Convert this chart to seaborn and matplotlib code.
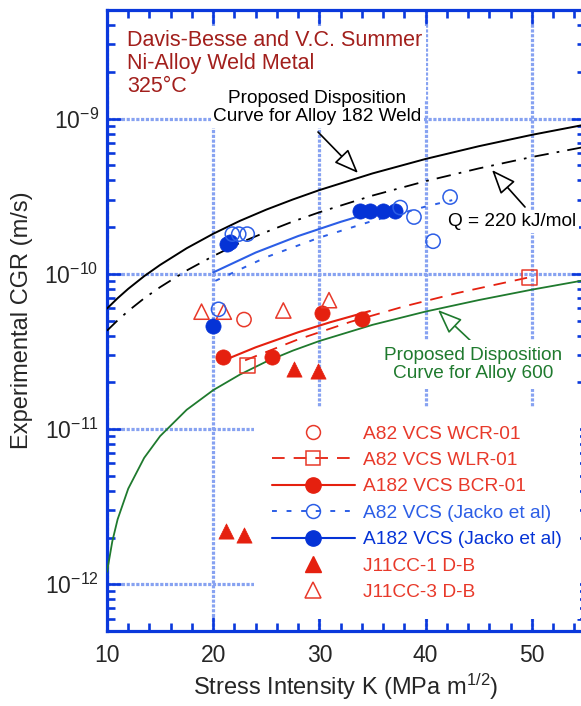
import numpy as np
import pandas as pd
import matplotlib
matplotlib.use("Agg")
import matplotlib.pyplot as plt
import seaborn as sns
from matplotlib.lines import Line2D
from matplotlib.ticker import LogLocator, MultipleLocator, NullFormatter

# ---------------- data ----------------
k_wcr01 = [22.9]
cgr_wcr01 = [5.07e-11]

k_wlr01 = [23.2, 49.8]
cgr_wlr01 = [2.58e-11, 9.5e-11]

k_bcr01 = [20.9, 25.5, 30.2, 34.0]
cgr_bcr01 = [2.92e-11, 2.92e-11, 5.6e-11, 5.15e-11]

k_a82_jacko = [20.5, 21.8, 22.4, 23.2, 37.6, 38.9, 40.7, 42.3]
cgr_a82_jacko = [5.9e-11, 1.8e-10, 1.8e-10, 1.8e-10, 2.67e-10, 2.32e-10, 1.62e-10, 3.12e-10]

k_a182_jacko = [19.95, 21.3, 21.6, 33.8, 34.75, 36.0, 37.1]
cgr_a182_jacko = [4.6e-11, 1.55e-10, 1.6e-10, 2.54e-10, 2.54e-10, 2.54e-10, 2.54e-10]

k_j11cc1 = [21.2, 22.9, 27.6, 29.9]
cgr_j11cc1 = [2.2e-12, 2.08e-12, 2.42e-11, 2.37e-11]

k_j11cc3 = [18.9, 21.0, 26.6, 30.9]
cgr_j11cc3 = [5.7e-11, 5.7e-11, 5.8e-11, 6.76e-11]

# fit lines through the data sets
k_fit_wlr01 = [23, 28, 33, 38, 43, 50]
cgr_fit_wlr01 = [2.77e-11, 3.78e-11, 4.92e-11, 6.17e-11, 7.52e-11, 9.57e-11]
k_fit_bcr01 = [20.9, 24, 28, 31, 34.75]
cgr_fit_bcr01 = [2.75e-11, 3.36e-11, 4.2e-11, 4.87e-11, 5.75e-11]
k_fit_a82_jacko = [20.2, 25, 30, 35, 40, 42.5]
cgr_fit_a82_jacko = [9.0e-11, 1.28e-10, 1.71e-10, 2.19e-10, 2.71e-10, 2.98e-10]
k_fit_a182_jacko = [20, 24, 28, 32, 36]
cgr_fit_a182_jacko = [1.02e-10, 1.37e-10, 1.75e-10, 2.16e-10, 2.61e-10]

# disposition curves
k_curve = [10, 11, 12, 13.5, 15, 17.5, 20, 22.5, 25, 27.5, 30, 35, 40, 45, 50, 55]
cgr_a182_disp = [5.97e-11, 6.96e-11, 8.0e-11, 9.65e-11, 1.14e-10, 1.46e-10, 1.81e-10, 2.19e-10,
                 2.59e-10, 3.01e-10, 3.46e-10, 4.43e-10, 5.49e-10, 6.63e-10, 7.85e-10, 9.13e-10]
cgr_q220 = [4.3e-11, 5.01e-11, 5.76e-11, 6.95e-11, 8.2e-11, 1.05e-10, 1.30e-10, 1.58e-10,
            1.86e-10, 2.17e-10, 2.49e-10, 3.19e-10, 3.95e-10, 4.77e-10, 5.65e-10, 6.57e-10]
k_a600 = [10, 10.5, 11, 12, 13.5, 15, 17.5, 20, 22.5, 25, 27.5, 30, 35, 40, 45, 50, 55]
cgr_a600_disp = [1.2e-12, 1.89e-12, 2.62e-12, 4.13e-12, 6.52e-12, 9.0e-12, 1.33e-11, 1.78e-11,
                 2.24e-11, 2.72e-11, 3.2e-11, 3.69e-11, 4.69e-11, 5.71e-11, 6.77e-11, 7.9e-11, 9.1e-11]

legend_labels = ["A82 VCS WCR-01", "A82 VCS WLR-01", "A182 VCS BCR-01",
                 "A82 VCS (Jacko et al)", "A182 VCS (Jacko et al)", "J11CC-1 D-B", "J11CC-3 D-B"]

# ---------------- style ----------------
sns.set_style("ticks")
plt.rcParams["font.family"] = ["Liberation Sans", "DejaVu Sans"]
plt.rcParams["mathtext.fontset"] = "custom"
plt.rcParams["mathtext.rm"] = "Liberation Sans"
plt.rcParams["mathtext.it"] = "Liberation Sans:italic"
plt.rcParams["mathtext.bf"] = "Liberation Sans:bold"
plt.rcParams["axes.unicode_minus"] = False

SPINE = "#0a38dc"
GRID = "#87a2f1"
RED = "#e5200f"
RED_O = "#e8392a"
BLUE = "#0533d6"
BLUE_O = "#2c5ee6"
GREEN = "#1f7a2e"
DARKRED = "#a21f1c"

W, H = 581, 706
fig = plt.figure(figsize=(W / 100, H / 100), dpi=100)
L, R, T, B = 107, 585, 10, 631
ax = fig.add_axes([L / W, 1 - B / H, (R - L) / W, (B - T) / H])
ax.set_yscale("log")


def fx(x):
    return x / W


def fy(y):
    return 1 - y / H


# ---------------- curves ----------------
sns.lineplot(x=k_curve, y=cgr_a182_disp, ax=ax, color="black", lw=1.4, zorder=3)
sns.lineplot(x=k_curve, y=cgr_q220, ax=ax, color="black", lw=1.3,
             linestyle=(0, (8, 4.5, 1.5, 4.5)), zorder=3)
sns.lineplot(x=k_a600, y=cgr_a600_disp, ax=ax, color=GREEN, lw=1.3, zorder=3)

sns.lineplot(x=k_fit_wlr01, y=cgr_fit_wlr01, ax=ax, color=RED, lw=1.3,
             linestyle=(0, (7, 5)), zorder=3)
sns.lineplot(x=k_fit_bcr01, y=cgr_fit_bcr01, ax=ax, color=RED, lw=1.5, zorder=3)
sns.lineplot(x=k_fit_a82_jacko, y=cgr_fit_a82_jacko, ax=ax, color=BLUE_O, lw=1.4,
             linestyle=(0, (2.5, 5)), zorder=3)
sns.lineplot(x=k_fit_a182_jacko, y=cgr_fit_a182_jacko, ax=ax, color=BLUE_O, lw=1.5, zorder=3)

# ---------------- markers ----------------
S_F = 120
S_O = 105
sns.scatterplot(x=k_a182_jacko, y=cgr_a182_jacko, ax=ax, marker="o", s=S_F,
                facecolor=BLUE, edgecolor=BLUE, linewidth=0.5, zorder=5, legend=False)
sns.scatterplot(x=k_a82_jacko, y=cgr_a82_jacko, ax=ax, marker="o", s=S_O,
                facecolor="none", edgecolor=BLUE_O, linewidth=1.1, zorder=6, legend=False)
sns.scatterplot(x=k_wcr01, y=cgr_wcr01, ax=ax, marker="o", s=S_O,
                facecolor="none", edgecolor=RED_O, linewidth=1.1, zorder=5, legend=False)
sns.scatterplot(x=k_wlr01, y=cgr_wlr01, ax=ax, marker="s", s=S_F,
                facecolor="none", edgecolor=RED_O, linewidth=1.1, zorder=5, legend=False)
sns.scatterplot(x=k_bcr01, y=cgr_bcr01, ax=ax, marker="o", s=S_F,
                facecolor=RED, edgecolor=RED, linewidth=0.5, zorder=5, legend=False)
sns.scatterplot(x=k_j11cc1, y=cgr_j11cc1, ax=ax, marker="^", s=S_F,
                facecolor=RED, edgecolor=RED, linewidth=0.5, zorder=5, legend=False)
sns.scatterplot(x=k_j11cc3, y=cgr_j11cc3, ax=ax, marker="^", s=S_F,
                facecolor="none", edgecolor=RED_O, linewidth=1.1, zorder=5, legend=False)

# ---------------- axes ----------------
ax.set_xlim(10, 55)
ax.set_ylim(5e-13, 5e-9)
ax.xaxis.set_major_locator(MultipleLocator(10))
ax.xaxis.set_minor_locator(MultipleLocator(2))
ax.yaxis.set_major_locator(LogLocator(base=10, numticks=20))
ax.yaxis.set_minor_locator(LogLocator(base=10, subs=np.arange(2, 10), numticks=20))
ax.yaxis.set_minor_formatter(NullFormatter())
ax.tick_params(which="both", direction="in", top=True, right=True, color=SPINE, width=1.9)
ax.tick_params(which="major", length=10, labelsize=16.5)
ax.tick_params(which="minor", length=5.5)
ax.tick_params(axis="x", which="major", pad=9)
ax.tick_params(axis="y", which="major", pad=6)
for s in ax.spines.values():
    s.set_color(SPINE)
    s.set_linewidth(2.3)

ax.set_axisbelow(True)
ax.grid(True, which="major", color=GRID, lw=2.3, ls=(0, (1, 0.5)))
ax.grid(False, which="minor")

ax.set_xlabel(r"Stress Intensity K (MPa m$^{1/2}$)", fontsize=17, labelpad=4)
ax.set_ylabel("Experimental CGR (m/s)", fontsize=17, labelpad=8)

# ---------------- annotations ----------------
wbox = dict(facecolor="white", edgecolor="none", pad=2)
fig.text(fx(127), fy(30), "Davis-Besse and V.C. Summer\nNi-Alloy Weld Metal\n325\u00b0C",
         ha="left", va="top", fontsize=15.5, color=DARKRED, linespacing=1.12,
         bbox=dict(facecolor="white", edgecolor="none", pad=3), zorder=4)
fig.text(fx(317.5), fy(90), "Proposed Disposition\nCurve for Alloy 182 Weld",
         ha="center", va="top", fontsize=13.7, color="black", linespacing=1.1,
         bbox=wbox, zorder=4)
fig.text(fx(448), fy(222), "Q = 220 kJ/mol", ha="left", va="center", fontsize=13.7,
         color="black", bbox=wbox, zorder=4)
fig.text(fx(473), fy(347), "Proposed Disposition\nCurve for Alloy 600",
         ha="center", va="top", fontsize=13.7, color=GREEN, linespacing=1.1,
         bbox=dict(facecolor="white", edgecolor="none", pad=5), zorder=4)


def arrow(tip, tail, col):
    ax.annotate("", xy=tip, xytext=tail, xycoords="figure pixels", textcoords="figure pixels",
                arrowprops=dict(arrowstyle="-|>,head_length=1.5,head_width=0.6",
                                mutation_scale=10, fc="white", ec=col, lw=1.2,
                                shrinkA=0, shrinkB=0), zorder=6)


arrow((358, H - 173), (318, H - 132), "black")
arrow((492, H - 170), (525, H - 207), "black")
arrow((438, H - 310), (473, H - 343), GREEN)

# ---------------- legend ----------------
handles = [
    Line2D([], [], ls="none", marker="o", ms=10, mfc="none", mec=RED_O, mew=1.1),
    Line2D([], [], ls=(0, (7, 5)), color=RED, lw=1.3, marker="s", ms=10.5, mfc="none", mec=RED_O, mew=1.1),
    Line2D([], [], ls="-", color=RED, lw=1.5, marker="o", ms=11, mfc=RED, mec=RED),
    Line2D([], [], ls=(0, (2.5, 5)), color=BLUE_O, lw=1.4, marker="o", ms=10, mfc="none", mec=BLUE_O, mew=1.1),
    Line2D([], [], ls="-", color=BLUE, lw=1.5, marker="o", ms=11, mfc=BLUE, mec=BLUE),
    Line2D([], [], ls="none", marker="^", ms=11, mfc=RED, mec=RED),
    Line2D([], [], ls="none", marker="^", ms=11, mfc="none", mec=RED_O, mew=1.1),
]
leg = ax.legend(handles, legend_labels, loc="upper left",
                bbox_to_anchor=(fx(254), fy(407)), bbox_transform=fig.transFigure,
                borderaxespad=0, borderpad=0.95, fontsize=13.8, handlelength=4.3,
                handletextpad=0.45, labelspacing=0.47, frameon=True, fancybox=False,
                facecolor="white", edgecolor="none", framealpha=1)
text_cols = [RED_O, RED_O, RED_O, BLUE_O, BLUE, RED_O, RED_O]
for t, c in zip(leg.get_texts(), text_cols):
    t.set_color(c)

fig.savefig("out.png", dpi=100)
